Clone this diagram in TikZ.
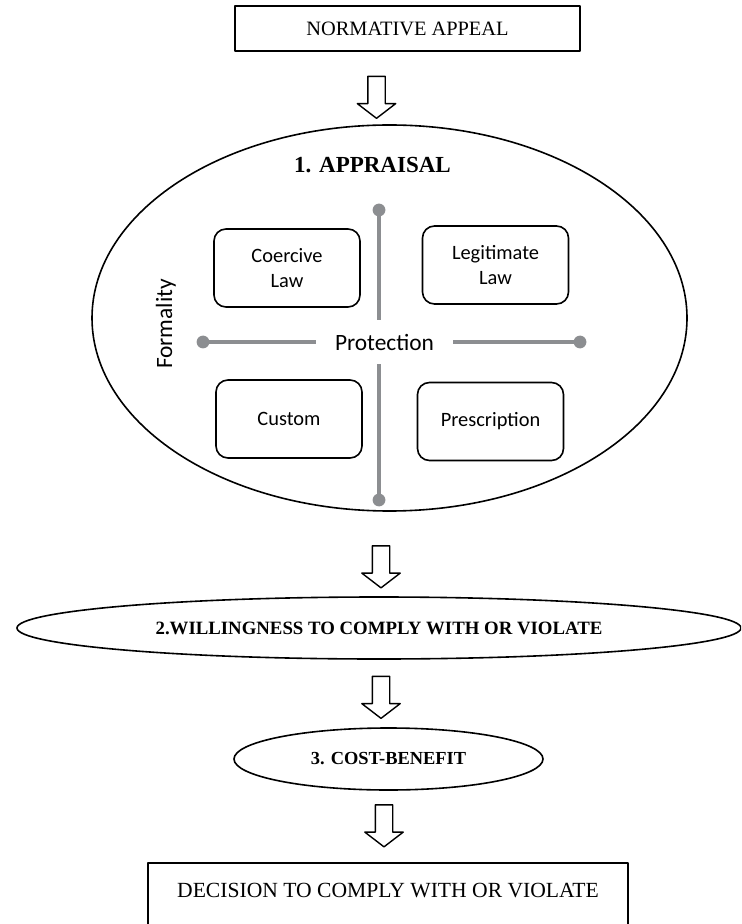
\documentclass[tikz,border=0pt]{standalone}
\usepackage{fontspec}
\setmainfont{Liberation Serif}
\newfontfamily\quadfont{Carlito}
\usetikzlibrary{shapes.geometric,shapes.arrows}
\definecolor{axisgray}{RGB}{140,142,145}

\begin{document}
\begin{tikzpicture}[x=0.5pt,y=-0.5pt,line join=round,
	stagebox/.style={draw,line width=0.8pt,inner sep=0pt},
	stageoval/.style={draw,ellipse,line width=0.8pt,inner sep=0pt},
	quadbox/.style={draw,rounded corners=6pt,line width=0.8pt,minimum width=73pt,minimum height=39pt,align=center,font=\quadfont\fontsize{10.2}{12.5}\selectfont},
	downarrow/.style={draw,single arrow,rotate=-90,line width=0.7pt,inner xsep=0pt,inner ysep=4pt,minimum width=18.5pt,minimum height=21pt,single arrow head extend=5.25pt,single arrow tip angle=105},
	axis/.style={axisgray,line width=2pt}]
	\useasboundingbox (0,0) rectangle (741,924);
	\clip (0,0) rectangle (741,924);
	\node[stagebox,minimum width=172.5pt,minimum height=22.5pt,font=\fontsize{10.2}{12}\selectfont] (appeal) at (407.5,28.5) {NORMATIVE APPEAL};
	\node[stageoval,minimum width=297.5pt,minimum height=193pt] (appraisal) at (389.5,318) {};
	\node[font=\bfseries\fontsize{11.5}{14}\selectfont] (apptitle) at (372.5,165) {1. APPRAISAL};
	\node[quadbox] (coercive) at (287,268) {Coercive\\Law};
	\node[quadbox] (legitimate) at (495.5,265) {Legitimate\\Law};
	\node[quadbox] (custom) at (289,419) {Custom};
	\node[quadbox] (prescription) at (490.5,421.5) {Prescription};
	\node[font=\quadfont\fontsize{11.7}{14}\selectfont,inner xsep=9.25pt,minimum height=22pt] (protect) at (384.5,342) {Protection};
	\node[rotate=90,font=\quadfont\fontsize{11.7}{14}\selectfont] (formal) at (166,324) {Formality};
	\coordinate (ptop) at (379,210);
	\coordinate (pbot) at (379,500);
	\coordinate (pleft) at (203,342);
	\coordinate (pright) at (580,342);
	\draw[axis] (ptop) -- (ptop |- protect.north);
	\draw[axis] (pbot) -- (pbot |- protect.south);
	\draw[axis] (pleft) -- (protect.west);
	\draw[axis] (pright) -- (protect.east);
	\foreach \p in {ptop,pbot,pleft,pright}
	\fill[axisgray] (\p) circle (3.2pt);
	\node[stageoval,minimum width=362pt,minimum height=31pt,font=\bfseries\fontsize{9.4}{11}\selectfont] (willing) at (379,628) {2.WILLINGNESS TO COMPLY WITH OR VIOLATE};
	\node[stageoval,minimum width=154.5pt,minimum height=31pt,font=\bfseries\fontsize{9.2}{11}\selectfont] (cost) at (388.5,759) {3. COST-BENEFIT};
	\node[stagebox,anchor=north,minimum width=240pt,text height=17.5pt,text depth=30pt,font=\fontsize{10.8}{13}\selectfont] (decision) at (388,862) {DECISION TO COMPLY WITH OR VIOLATE};
	\node[downarrow] (arr1) at (376.5,94) {};
	\node[downarrow] (arr2) at (381,563.5) {};
	\node[downarrow] (arr3) at (381,694) {};
	\node[downarrow] (arr4) at (384,822.5) {};
\end{tikzpicture}
\end{document}
